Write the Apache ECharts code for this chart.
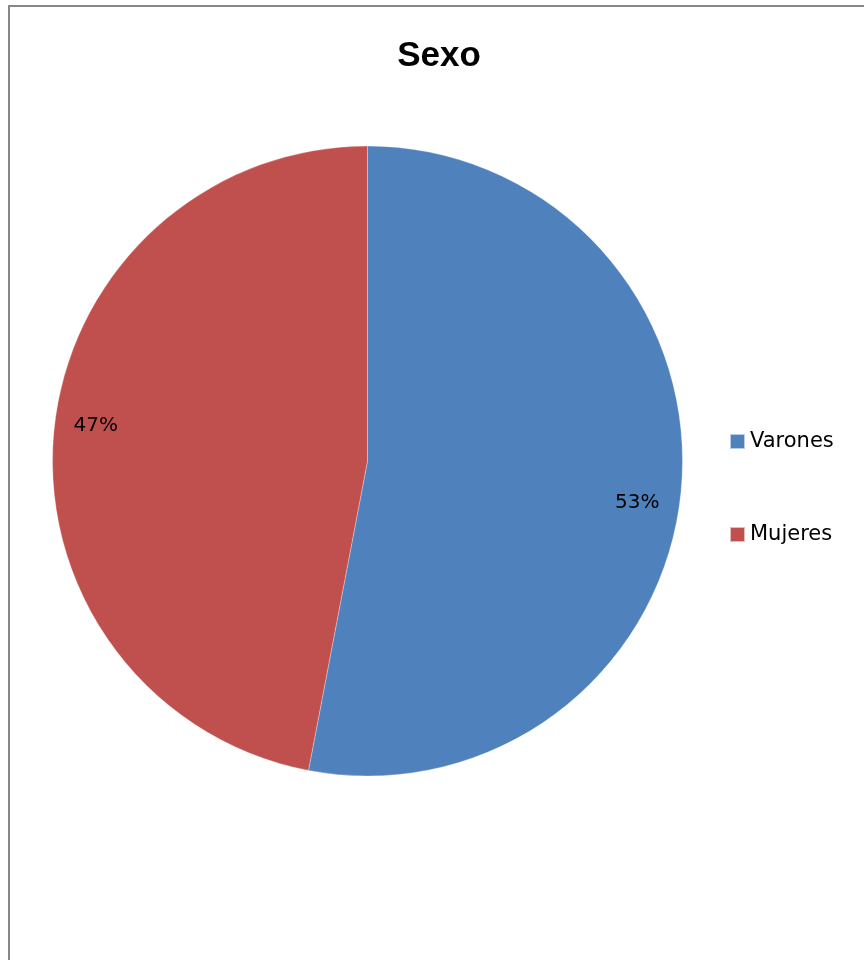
<!DOCTYPE html>
<html>
<head>
<meta charset="utf-8">
<style>
  html, body { margin: 0; padding: 0; background: #ffffff; }
  #chart { width: 864px; height: 960px; }
</style>
<script src="https://cdn.jsdelivr.net/npm/echarts@6/dist/echarts.min.js"></script>
</head>
<body>
<div id="chart"></div>
<script>
// Distribución por sexo
const titleText = 'Sexo';
const categories = ['Varones', 'Mujeres'];
const shares = [53, 47];
const colors = ['#4F81BD', '#C0504D'];

const sliceData = categories.map((name, i) => ({ name: name, value: shares[i] }));

const chart = echarts.init(document.getElementById('chart'), null, { renderer: 'canvas' });

chart.setOption({
  animation: false,
  backgroundColor: '#ffffff',
  color: colors,
  graphic: [{
    type: 'rect',
    shape: { x: 9, y: 6, width: 900, height: 1000 },
    style: { fill: 'none', stroke: '#878787', lineWidth: 2 },
    silent: true
  }],
  title: {
    text: titleText,
    left: 434,
    top: 34,
    textAlign: 'center',
    textStyle: {
      fontFamily: 'Liberation Sans',
      fontWeight: 'bold',
      fontSize: 35,
      color: '#000000'
    }
  },
  legend: {
    orient: 'vertical',
    left: 724,
    top: 426,
    padding: 5,
    itemWidth: 15,
    itemHeight: 15,
    itemGap: 72,
    icon: 'rect',
    data: categories,
    textStyle: {
      fontFamily: 'DejaVu Sans',
      fontSize: 21,
      lineHeight: 20,
      color: '#000000',
      padding: [0, 0, 0, 0]
    }
  },
  series: [
    {
      // the pie itself
      type: 'pie',
      center: [367.5, 461],
      radius: [0, 315],
      startAngle: 90,
      clockwise: true,
      data: sliceData,
      itemStyle: { borderColor: 'rgba(255,255,255,0.6)', borderWidth: 0.5 },
      label: { show: false },
      labelLine: { show: false },
      emphasis: { disabled: true }
    },
    {
      // transparent ring carrying the percentage labels near the rim
      type: 'pie',
      center: [367.5, 461],
      radius: [226, 315],
      startAngle: 87.3,
      clockwise: true,
      silent: true,
      data: sliceData,
      itemStyle: { color: 'rgba(0,0,0,0)', borderWidth: 0 },
      label: {
        show: true,
        position: 'inside',
        formatter: p => p.value + '%',
        fontFamily: 'DejaVu Sans',
        fontSize: 20,
        color: '#000000',
        offset: [-1, 3]
      },
      labelLine: { show: false },
      emphasis: { disabled: true }
    }
  ]
});
</script>
</body>
</html>
